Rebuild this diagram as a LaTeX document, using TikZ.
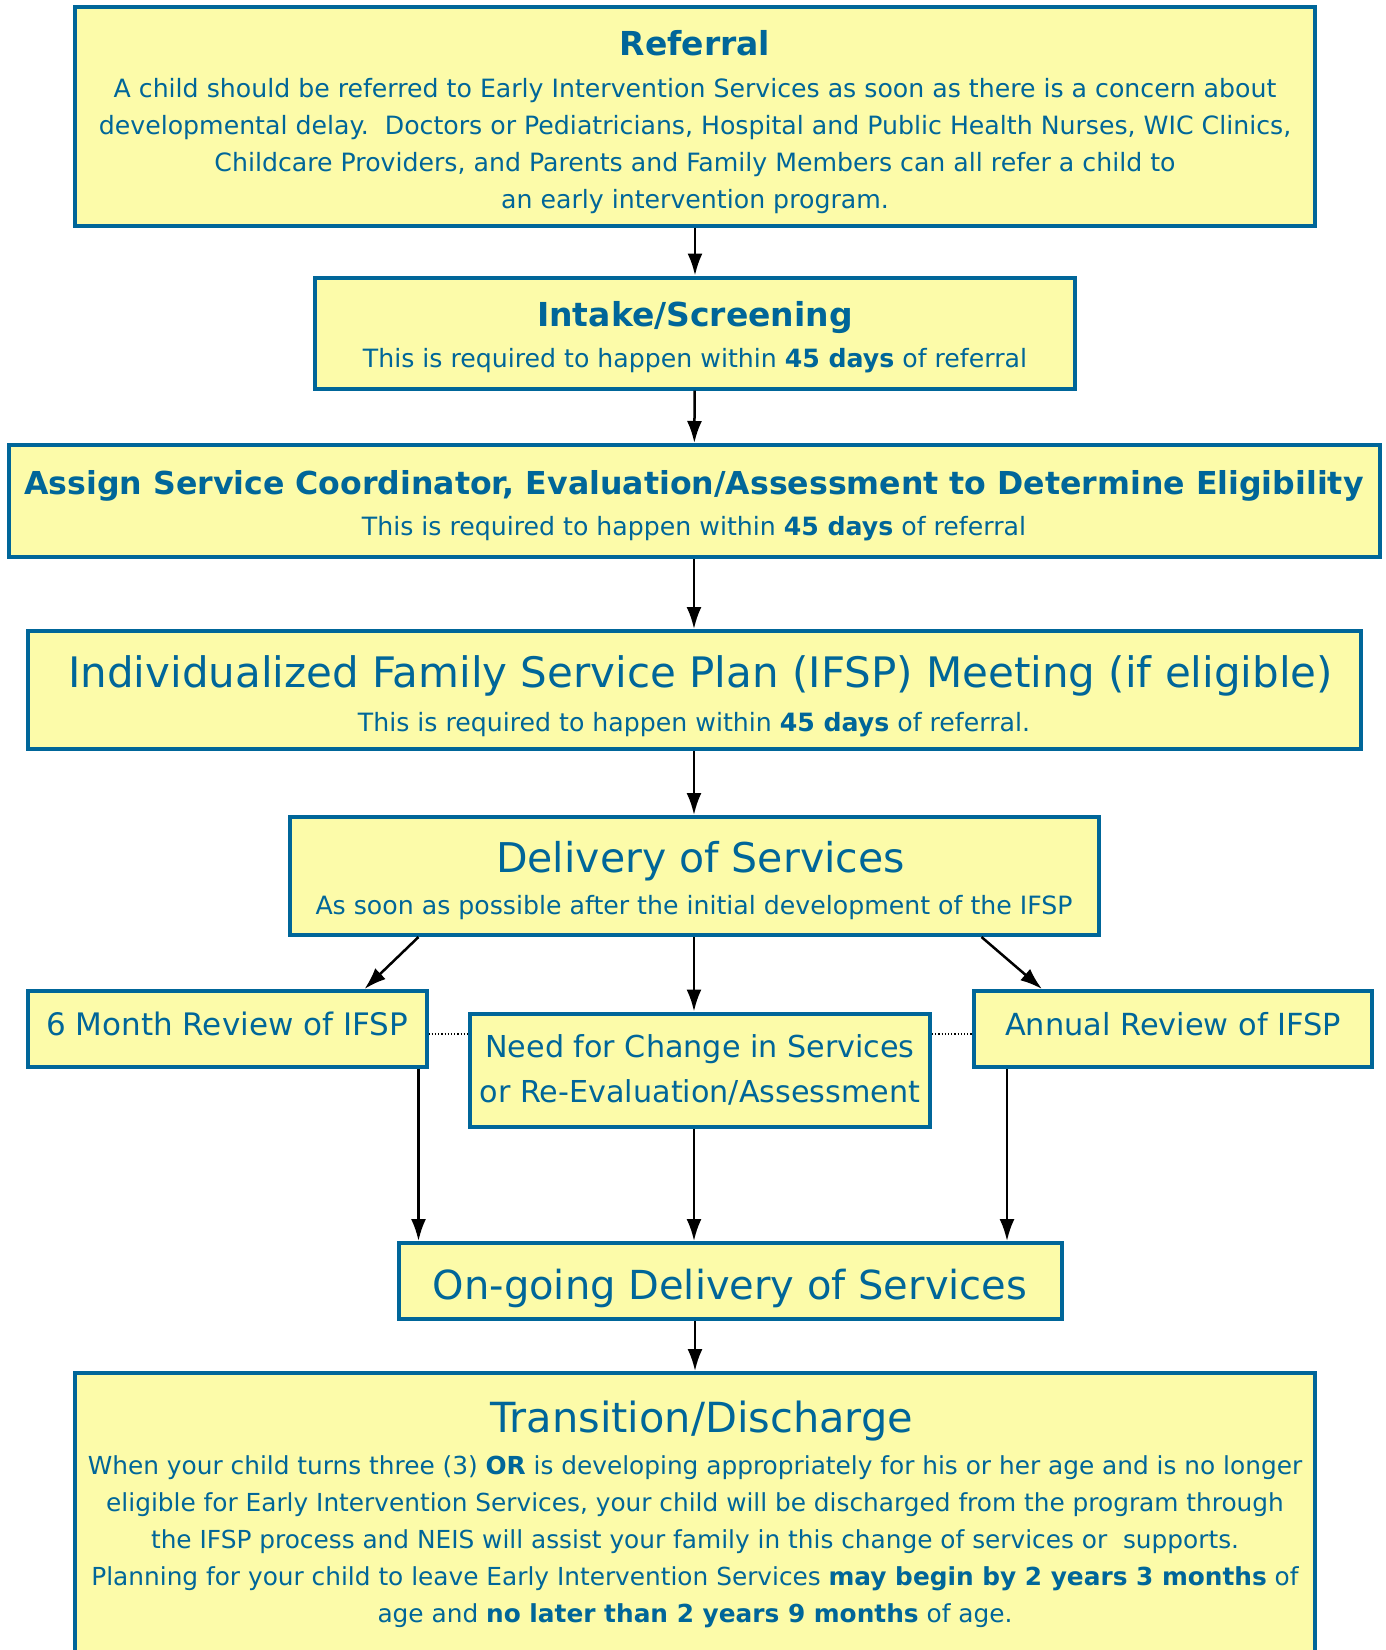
\documentclass[tikz,border=0pt]{standalone}
\usepackage{fontspec}
\setmainfont{DejaVu Sans}
\usetikzlibrary{arrows.meta}
\definecolor{eiblue}{HTML}{006699}
\definecolor{eiyellow}{HTML}{FCFBA9}
\newcommand{\bodysize}{\fontsize{25.2}{37}\selectfont}
\newcommand{\headsize}{\fontsize{33}{40}\selectfont}
\newcommand{\txtsize}[1]{\fontsize{#1}{1.2\dimexpr #1pt\relax}\selectfont}
\newcommand{\lift}[1]{\rule{0pt}{#1pt}}

\begin{document}
\begin{tikzpicture}[
  x=1pt, y=-1pt,
  box/.style={
    draw=eiblue,
    fill=eiyellow,
    line width=4pt,
    text=eiblue,
    align=center,
    font=\bodysize,
    inner sep=0pt
  },
  arr/.style={-{Latex[length=22pt, width=15pt]}, line width=2.5pt},
  link/.style={dotted, line width=1.2pt}
]
\useasboundingbox (0,0) rectangle (1385,1650);
\clip (0,0) rectangle (1385,1650);

% Step 1 - Referral
\node[box, minimum width=1240, minimum height=219] (referral) at (695,116) {\lift{38}{\headsize\bfseries Referral}\\[5pt]
A child should be referred to Early Intervention Services as soon as there is a concern about\\
developmental delay.\ \ Doctors or Pediatricians, Hospital and Public Health Nurses, WIC Clinics,\\
Childcare Providers, and Parents and Family Members can all refer a child to\\
an early intervention program.};

% Step 2 - Intake and eligibility
\node[box, minimum width=760, minimum height=111] (intake) at (695,333) {\lift{34}{\headsize\bfseries Intake/Screening}\\[4pt]
This is required to happen within \textbf{45 days} of referral};
\node[box, minimum width=1371, minimum height=112] (assign) at (694,501) {\lift{33}{\txtsize{31.6}\bfseries Assign Service Coordinator, Evaluation/Assessment to Determine Eligibility}\\[4pt]
This is required to happen within \textbf{45 days} of referral};

% Step 3 - IFSP and services
\node[box, minimum width=1333, minimum height=118] (ifsp) at (694,690) {\lift{45}{\txtsize{42} Individualized Family Service Plan (IFSP) Meeting (if eligible)}\\[7pt]
This is required to happen within \textbf{45 days} of referral.};
\node[box, minimum width=809, minimum height=118] (delivery) at (694,876) {\lift{41}{\txtsize{41} Delivery of Services}\\[5pt]
As soon as possible after the initial development of the IFSP};

% Step 4 - Reviews
\node[box, font=\txtsize{31}, text depth=10, minimum width=399, minimum height=76] (sixmonth) at (227,1029) {6 Month Review of IFSP};
\node[box, font=\fontsize{30.2}{45}\selectfont, minimum width=460, minimum height=113] (change) at (700,1070) {Need for Change in Services\\ or Re-Evaluation/Assessment};
\node[box, font=\txtsize{30.4}, text depth=10, minimum width=398, minimum height=76] (annual) at (1173,1029) {Annual Review of IFSP};

% Step 5 - On-going and transition
\node[box, font=\txtsize{40}, text height=45, minimum width=663, minimum height=76] (ongoing) at (730,1281) {On-going Delivery of Services};
\node[box, font=\fontsize{24.8}{37}\selectfont, minimum width=1240, minimum height=282] (transition) at (695,1514) {{\txtsize{41.5} Transition/Discharge}\\[5pt]
When your child turns three (3) \textbf{OR} is developing appropriately for his or her age and is no longer\\
eligible for Early Intervention Services, your child will be discharged from the program through\\
the IFSP process and NEIS will assist your family in this change of services or\ \ supports.\\
Planning for your child to leave Early Intervention Services \textbf{may begin by 2 years 3 months} of\\
age and \textbf{no later than 2 years 9 months} of age.};

% Arrows
\draw[arr] (referral) -- (intake);
\draw[arr] (intake) -- (assign);
\draw[arr] (assign) -- (ifsp);
\draw[arr] (ifsp) -- (delivery);
\draw[arr] (delivery.south) -- (delivery.south |- change.north);
\draw[arr] ([xshift=131]delivery.south west) -- ([xshift=-64]sixmonth.north east);
\draw[arr] ([xshift=-119]delivery.south east) -- ([xshift=70]annual.north west);
\draw[arr] ([xshift=-10]sixmonth.south east) -- ([xshift=-10]sixmonth.south east |- ongoing.north);
\draw[arr] (change.south -| delivery.south) -- (delivery.south |- ongoing.north);
\draw[arr] ([xshift=35]annual.south west) -- ([xshift=35]annual.south west |- ongoing.north);
\draw[arr] (ongoing.south -| referral.south) -- (referral.south |- transition.north);

% Dotted links between reviews
\draw[link] (sixmonth.east |- 0,1034) -- (change.west |- 0,1034);
\draw[link] (change.east |- 0,1034) -- (annual.west |- 0,1034);

\end{tikzpicture}
\end{document}
